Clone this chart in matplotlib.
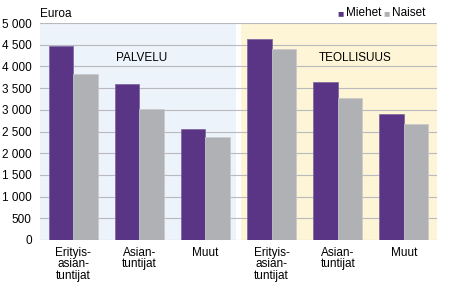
import numpy as np
import matplotlib.pyplot as plt

plt.rcParams['font.family'] = ['Liberation Sans', 'DejaVu Sans']

# Data
groups = ["Erityis-\nasian-\ntuntijat", "Asian-\ntuntijat", "Muut"] * 2
sections = ["PALVELU", "TEOLLISUUS"]
miehet = [4470, 3595, 2550, 4630, 3640, 2910]
naiset = [3830, 3020, 2380, 4410, 3265, 2675]
yticks = [0, 500, 1000, 1500, 2000, 2500, 3000, 3500, 4000, 4500, 5000]

purple = "#5a3585"
grey = "#b0b1b5"

fig = plt.figure(figsize=(4.5, 2.9), dpi=100)
ax = fig.add_axes([40 / 450, 50 / 290, 397 / 450, 217 / 290])

x = np.arange(len(groups))
w = 0.37

ax.axvspan(-0.5, 2.46, color="#edf3fb", zorder=0, lw=0)
ax.axvspan(2.54, 5.5, color="#fdf5d5", zorder=0, lw=0)

ax.bar(x - w / 2, miehet, w, color=purple, zorder=3, edgecolor="#7a62a0", linewidth=0.5)
ax.bar(x + w / 2, naiset, w, color=grey, zorder=3, edgecolor="#c8c9cc", linewidth=0.5)

ax.set_xlim(-0.5, 5.5)
ax.set_ylim(0, 5000)
ax.set_yticks(yticks)
ax.set_yticklabels([f"{v:,}".replace(",", " ") for v in yticks], fontsize=8.5)
ax.set_xticks(x)
ax.set_xticklabels(groups, fontsize=8.5, linespacing=0.95, va="top")
ax.tick_params(axis="both", length=0, pad=5)
ax.tick_params(axis="y", pad=6)
ax.grid(axis="y", color="#b9b9c0", linewidth=0.8, zorder=1)
for s in ax.spines.values():
    s.set_visible(False)

ax.text(1.04, 4200, sections[0], ha="center", va="center", fontsize=8.5, zorder=4)
ax.text(4.27, 4200, sections[1], ha="center", va="center", fontsize=8.5, zorder=4)

fig.text(40 / 450, 1 - 14 / 290, "Euroa", ha="left", va="center", fontsize=8.5)

# legend
fig.text(337 / 450, 1 - 13 / 290, "■", color=purple, ha="left", va="center", fontsize=7.5)
fig.text(346 / 450, 1 - 13 / 290, "Miehet", ha="left", va="center", fontsize=8.5)
fig.text(383 / 450, 1 - 13 / 290, "■", color=grey, ha="left", va="center", fontsize=7.5)
fig.text(392 / 450, 1 - 13 / 290, "Naiset", ha="left", va="center", fontsize=8.5)

fig.savefig("out.png", dpi=100)
